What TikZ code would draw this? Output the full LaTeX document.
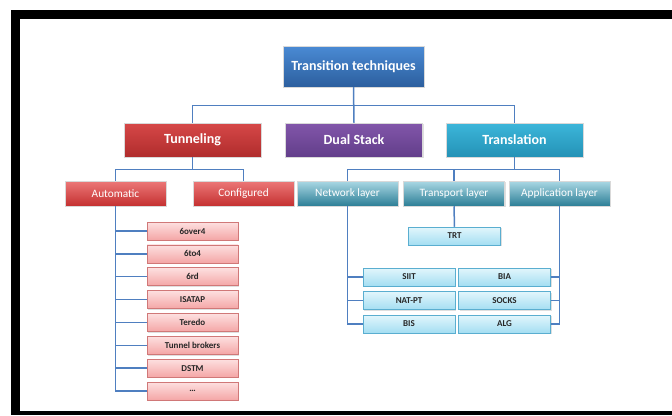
\documentclass[tikz,border=0pt]{standalone}
\usepackage{fontspec}
\setmainfont{Carlito}
\usetikzlibrary{shadows}
\usetikzlibrary{calc}
\definecolor{linkblue}{HTML}{4F7FC0}
\definecolor{leafred}{HTML}{D07878}
\definecolor{leafcyan}{HTML}{5AAED0}
\tikzstyle{box}=[rectangle,inner sep=0pt,draw=white!85!black,line width=0.5pt,drop shadow={opacity=0.25,shadow xshift=1.2pt,shadow yshift=-1.2pt}]
\tikzstyle{rootbox}=[box,minimum width=141pt,minimum height=41pt,top color={rgb,255:red,74;green,138;blue,212},bottom color={rgb,255:red,44;green,95;blue,158},text=white,font=\bfseries\fontsize{14}{16}\selectfont]
\tikzstyle{mainbox}=[box,minimum width=137pt,minimum height=34pt,text=white,font=\bfseries\fontsize{14}{16}\selectfont]
\tikzstyle{subbox}=[box,minimum width=101pt,minimum height=25pt,text=white,font=\fontsize{11.3}{13}\selectfont]
\tikzstyle{redleaf}=[box,draw=leafred,minimum width=91pt,minimum height=18pt,top color={rgb,255:red,253;green,224;blue,224},bottom color={rgb,255:red,244;green,166;blue,166},text=black!85,font=\bfseries\fontsize{9}{10}\selectfont]
\tikzstyle{cyanleaf}=[box,draw=leafcyan,minimum width=92pt,minimum height=18pt,top color={rgb,255:red,226;green,246;blue,252},bottom color={rgb,255:red,164;green,222;blue,242},text=black!85,font=\bfseries\fontsize{9}{10}\selectfont]
\tikzstyle{conn}=[draw=linkblue,line width=1.5pt]

\begin{document}
\begin{tikzpicture}[x=1pt,y=-1pt]
  \useasboundingbox (0,0) rectangle (672,415);

  % frame
  \fill[black] (11,10) rectangle (672,19);
  \fill[black] (11,10) rectangle (20,415);
  \fill[black] (11,411) rectangle (672,415);

  \node[rootbox] (root) at (353.5,66.5) {Transition techniques};

  \foreach \x/\name/\label/\ctop/\cbot in {192.5/tun/Tunneling/{rgb,255:red,214;green,72;blue,72}/{rgb,255:red,176;green,44;blue,44},
        354/dual/Dual Stack/{rgb,255:red,130;green,86;blue,170}/{rgb,255:red,98;green,62;blue,138},
        514.5/transl/Translation/{rgb,255:red,60;green,182;blue,218}/{rgb,255:red,36;green,146;blue,182}}
     \node[mainbox,top color=\ctop,bottom color=\cbot] (\name) at (\x,140) {\label};

  \foreach \x/\name/\label in {115.5/auto/Automatic, 243.5/conf/Configured}
     \node[subbox,top color={rgb,255:red,236;green,120;blue,120},bottom color={rgb,255:red,196;green,48;blue,48}] (\name) at (\x,193.5) {\label};

  \foreach \x/\name/\label in {347.5/net/Network layer, 454/transp/Transport layer, 559.5/app/Application layer}
     \node[subbox,top color={rgb,255:red,170;green,216;blue,228},bottom color={rgb,255:red,44;green,126;blue,150}] (\name) at (\x,193.5) {\label};

  % tunneling mechanisms
  \foreach \i/\name/\label in {0/a1/6over4, 1/a2/6to4, 2/a3/6rd, 3/a4/ISATAP, 4/a5/Teredo, 5/a6/Tunnel brokers, 6/a7/DSTM, 7/a8/\ldots}
     \node[redleaf] (\name) at (192.5,231+22.86*\i) {\label};

  % translation mechanisms
  \node[cyanleaf] (trt) at (454.5,236) {TRT};
  \foreach \x/\y/\name/\label in {409/277/siit/SIIT, 409/300.5/natpt/NAT-PT, 409/324/bis/BIS,
        504.5/277/bia/BIA, 504.5/300.5/socks/SOCKS, 504.5/324/alg/ALG}
     \node[cyanleaf] (\name) at (\x,\y) {\label};

  \draw[conn] (root.south) -- ++(0,18) -| (tun.north);
  \draw[conn] (root.south) -- ++(0,18) -| (transl.north);
  \draw[conn] (root.south) -- (dual.north);

  \foreach \dest in {auto,conf}
     \draw[conn] (tun.south) -- ++(0,12) -| (\dest.north);
  \foreach \dest in {net,transp,app}
     \draw[conn] (transl.south) -- ++(0,12) -| (\dest.north);

  \foreach \dest in {a1,a2,a3,a4,a5,a6,a7,a8}
     \draw[conn] (auto.south) |- (\dest.west);
  \foreach \dest in {siit,natpt,bis}
     \draw[conn] (net.south) |- (\dest.west);
  \foreach \dest in {bia,socks,alg}
     \draw[conn] (app.south) |- (\dest.east);
  \draw[conn] (transp.south) -- (trt.north);

\end{tikzpicture}
\end{document}
